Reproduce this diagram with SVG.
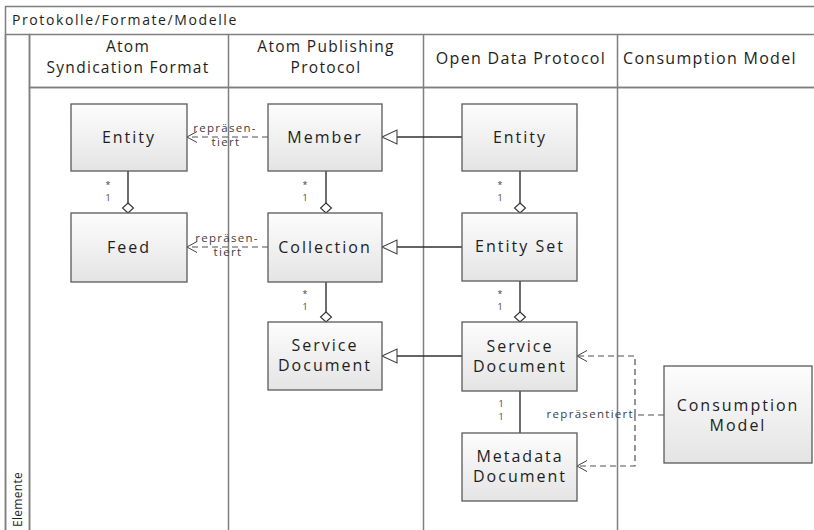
<svg xmlns="http://www.w3.org/2000/svg" width="814" height="530" viewBox="0 0 814 530">
<defs>
<linearGradient id="gNode" x1="0" y1="0" x2="0" y2="1">
<stop offset="0" stop-color="#fdfdfd"/><stop offset="1" stop-color="#e4e4e4"/>
</linearGradient>
<linearGradient id="gHead" x1="0" y1="0" x2="0" y2="1">
<stop offset="0" stop-color="#ffffff"/><stop offset="1" stop-color="#ececec"/>
</linearGradient>
<linearGradient id="gStrip" x1="0" y1="0" x2="1" y2="0">
<stop offset="0" stop-color="#f6f6f6"/><stop offset="1" stop-color="#dedede"/>
</linearGradient>
<marker id="open" viewBox="0 0 12 12" refX="11" refY="6" markerWidth="12" markerHeight="12" markerUnits="userSpaceOnUse" orient="auto">
<path d="M1,0.5 L11,6 L1,11.5" fill="none" stroke="#404040" stroke-width="1"/>
</marker>
</defs>
<style>
.frame{fill:none;stroke:#7f7f7f;stroke-width:1.5}
.node rect{fill:url(#gNode);stroke:#5a5a5a;stroke-width:1.3}
.node text{font-family:"Open Sans","Liberation Sans",sans-serif;font-size:16px;letter-spacing:2px;fill:#1e1e1e;text-anchor:middle}
.hd{font-family:"Open Sans","Liberation Sans",sans-serif;font-size:16px;letter-spacing:1.3px;fill:#1e1e1e;text-anchor:middle}
.hd2{font-size:15.5px}
.ttl{font-family:"Open Sans","Liberation Sans",sans-serif;font-size:14px;letter-spacing:1.6px;fill:#1e1e1e}
.solid{fill:none;stroke:#303030;stroke-width:1.4}
.dash{fill:none;stroke:#505050;stroke-width:1.2;stroke-dasharray:6,4}
.tri{fill:#ffffff;stroke:#404040;stroke-width:1.1}
.dia{fill:#ffffff;stroke:#303030;stroke-width:1.1}
.lbl{font-family:"Open Sans","Liberation Sans",sans-serif;font-size:11.5px;letter-spacing:1.3px;fill:#404040}
.mult{font-family:"Open Sans","Liberation Sans",sans-serif;font-size:9px;fill:#404040;text-anchor:middle}
</style>
<rect width="814" height="530" fill="#ffffff"/>
<g id="pool">
<rect x="5.5" y="6.5" width="830" height="540" fill="url(#gHead)" class="frame"/>
<rect x="5.5" y="34.5" width="24" height="510" fill="url(#gStrip)" class="frame"/>
<rect x="29.5" y="34.5" width="800" height="53" fill="url(#gHead)" class="frame"/>
<rect x="29.5" y="87.5" width="800" height="460" fill="#ffffff" class="frame"/>
<line x1="228.5" y1="34.5" x2="228.5" y2="530" class="frame"/>
<line x1="423.5" y1="34.5" x2="423.5" y2="530" class="frame"/>
<line x1="617.5" y1="34.5" x2="617.5" y2="530" class="frame"/>
<text class="ttl" x="12" y="25">Protokolle/Formate/Modelle</text>
<text class="hd hd2" x="128" y="52">Atom</text>
<text class="hd hd2" x="128" y="73">Syndication Format</text>
<text class="hd hd2" x="326" y="52">Atom Publishing</text>
<text class="hd hd2" x="326" y="73">Protocol</text>
<text class="hd" x="521" y="64">Open Data Protocol</text>
<text class="hd" x="623" y="64" style="text-anchor:start">Consumption Model</text>
<text class="ttl" style="font-size:12px;letter-spacing:0.3px" transform="translate(22,527) rotate(-90)">Elemente</text>
</g>
<g id="connectors">
<line x1="128" y1="171" x2="128" y2="203" class="solid"/>
<polygon points="128,203 133.5,208 128,213 122.5,208" class="dia"/>
<text class="mult" x="108" y="188">*</text><text class="mult" x="108" y="201">1</text>
<line x1="326" y1="171" x2="326" y2="203" class="solid"/>
<polygon points="326,203 331.5,208 326,213 320.5,208" class="dia"/>
<text class="mult" x="305" y="188">*</text><text class="mult" x="305" y="201">1</text>
<line x1="520" y1="171" x2="520" y2="203" class="solid"/>
<polygon points="520,203 525.5,208 520,213 514.5,208" class="dia"/>
<text class="mult" x="500" y="188">*</text><text class="mult" x="500" y="201">1</text>
<line x1="326" y1="282" x2="326" y2="312" class="solid"/>
<polygon points="326,312 331.5,317 326,322 320.5,317" class="dia"/>
<text class="mult" x="305" y="297">*</text><text class="mult" x="305" y="310">1</text>
<line x1="520" y1="281" x2="520" y2="312" class="solid"/>
<polygon points="520,312 525.5,317 520,322 514.5,317" class="dia"/>
<text class="mult" x="500" y="297">*</text><text class="mult" x="500" y="310">1</text>
<line x1="520" y1="391" x2="520" y2="433" class="solid"/>
<text class="mult" x="501" y="407">1</text><text class="mult" x="501" y="420">1</text>
<line x1="462" y1="137" x2="397" y2="137" class="solid"/>
<polygon points="382,137 397,130 397,144" class="tri"/>
<line x1="462" y1="247" x2="397" y2="247" class="solid"/>
<polygon points="382,247 397,240 397,254" class="tri"/>
<line x1="462" y1="356" x2="397" y2="356" class="solid"/>
<polygon points="382,356 397,349 397,363" class="tri"/>
<line x1="268" y1="137" x2="187" y2="137" class="dash" marker-end="url(#open)"/>
<text class="lbl" x="225" y="132" text-anchor="middle">repräsen-</text>
<text class="lbl" x="226" y="146" text-anchor="middle">tiert</text>
<line x1="268" y1="247" x2="187" y2="247" class="dash" marker-end="url(#open)"/>
<text class="lbl" x="227" y="242" text-anchor="middle">repräsen-</text>
<text class="lbl" x="228" y="256" text-anchor="middle">tiert</text>
<path d="M664,415 H635" class="dash"/>
<path d="M635,415 V356 H577" class="dash" marker-end="url(#open)"/>
<path d="M635,415 V466 H577" class="dash" marker-end="url(#open)"/>
<text class="lbl" x="634" y="418" text-anchor="end">repräsentiert</text>
</g>
<g id="n-asf-entity" class="node"><rect x="71" y="104" width="116" height="67"/><text x="129" y="143">Entity</text></g>
<g id="n-feed" class="node"><rect x="71" y="213" width="116" height="69"/><text x="129" y="253">Feed</text></g>
<g id="n-member" class="node"><rect x="268" y="104" width="114" height="67"/><text x="325" y="143">Member</text></g>
<g id="n-collection" class="node"><rect x="268" y="213" width="114" height="69"/><text x="325" y="253">Collection</text></g>
<g id="n-app-service" class="node"><rect x="268" y="322" width="114" height="68"/><text x="325" y="351">Service</text><text x="325" y="371">Document</text></g>
<g id="n-od-entity" class="node"><rect x="462" y="104" width="115" height="67"/><text x="520" y="143">Entity</text></g>
<g id="n-entityset" class="node"><rect x="462" y="213" width="115" height="68"/><text x="520" y="252">Entity Set</text></g>
<g id="n-od-service" class="node"><rect x="462" y="322" width="115" height="69"/><text x="520" y="352">Service</text><text x="520" y="372">Document</text></g>
<g id="n-metadata" class="node"><rect x="462" y="433" width="115" height="68"/><text x="520" y="462">Metadata</text><text x="520" y="482">Document</text></g>
<g id="n-consumption" class="node"><rect x="664" y="366" width="148" height="97"/><text x="738" y="411">Consumption</text><text x="738" y="431">Model</text></g>
</svg>
